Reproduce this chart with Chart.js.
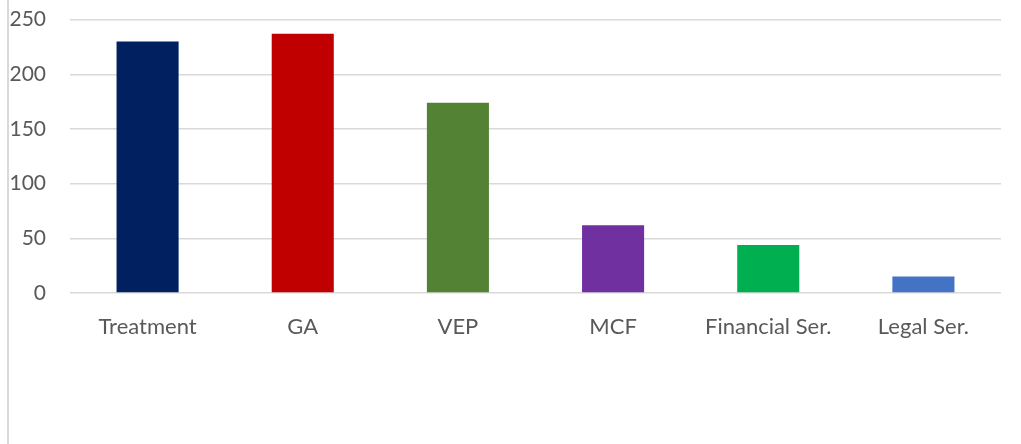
<!DOCTYPE html>
<html lang="en">
<head>
    <meta charset="UTF-8">
    <title>Bars by department</title>
    <style>
        html, body { margin: 0; padding: 0; background: #fff; overflow: hidden; }
        .wrap { position: relative; width: 1021px; height: 444px; overflow: hidden; }
        .edge { position: absolute; left: 7px; top: 0; bottom: 0; border-left: 2px solid #d9d9d9; z-index: 2; }
        #chartDept { position: absolute; left: 0; top: -17px; }
    </style>
</head>
<body>
    <div class="wrap">
        <canvas id="chartDept" width="1021" height="461"></canvas>
        <div class="edge"></div>
    </div>

    <script src="https://cdn.jsdelivr.net/npm/chart.js"></script>
    <script>
        const categories = ['Treatment', 'GA', 'VEP', 'MCF', 'Financial Ser.', 'Legal Ser.'];
        const values = [230, 237, 174, 62, 44, 15];
        const barColors = ['#002060', '#C00000', '#548235', '#7030A0', '#00B050', '#4472C4'];
        const yTicks = [0, 50, 100, 150, 200, 250];

        const ctx = document.getElementById('chartDept').getContext('2d');

        new Chart(ctx, {
            type: 'bar',
            data: {
                labels: categories,
                datasets: [{
                    data: values,
                    backgroundColor: barColors,
                    categoryPercentage: 1,
                    barPercentage: 0.4
                }]
            },
            options: {
                responsive: false,
                animation: false,
                layout: { padding: { top: 3, right: 20, left: 0, bottom: 0 } },
                plugins: {
                    legend: { display: false },
                    tooltip: { enabled: false }
                },
                scales: {
                    x: {
                        grid: { display: false },
                        border: { display: false },
                        ticks: {
                            color: '#595959',
                            font: { family: 'Lato', size: 22 },
                            padding: 13,
                            maxRotation: 0
                        },
                        afterFit: s => { s.height = 151; }
                    },
                    y: {
                        min: 0,
                        max: 250,
                        afterBuildTicks: s => { s.ticks = yTicks.map(v => ({ value: v })); },
                        grid: { color: '#d9d9d9', lineWidth: 1.5, drawTicks: false },
                        border: { display: false },
                        ticks: {
                            color: '#595959',
                            font: { family: 'Lato', size: 21 },
                            padding: 24
                        },
                        afterFit: s => { s.width = 70; }
                    }
                }
            }
        });
    </script>
</body>
</html>
